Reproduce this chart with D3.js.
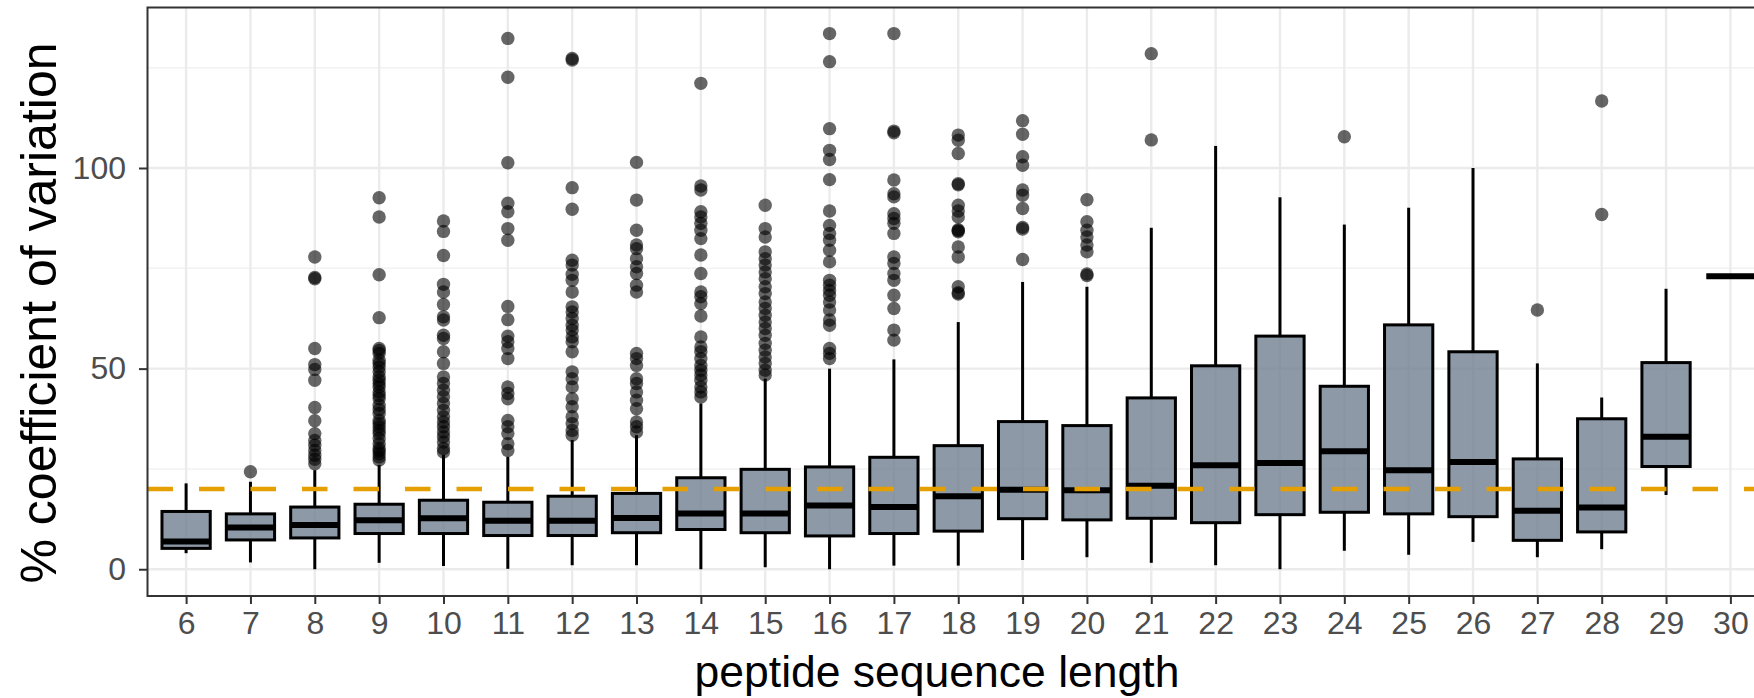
<!DOCTYPE html>
<html>
<head>
<meta charset="utf-8">
<script src="https://cdn.jsdelivr.net/npm/d3@7"></script>
<style>
  html, body { margin: 0; padding: 0; background: #ffffff; }
  svg { display: block; font-family: "Liberation Sans", Arial, sans-serif; }
</style>
</head>
<body>
<svg id="chart" width="1754" height="698"></svg>
<script>
// Peptide sequence length categories
const lengths = [6, 7, 8, 9, 10, 11, 12, 13, 14, 15, 16, 17, 18, 19, 20, 21, 22, 23, 24, 25, 26, 27, 28, 29, 30];

// Box statistics (% CV) per length
const q1       = [5.2, 7.3, 7.8, 8.9, 8.9, 8.4, 8.4, 9.1, 9.9, 9.1, 8.3, 8.9, 9.5, 12.6, 12.3, 12.7, 11.6, 13.6, 14.2, 13.8, 13.1, 7.2, 9.3, 25.6, 73.0];
const medians  = [6.9, 10.4, 11.0, 12.2, 12.7, 12.1, 12.1, 12.8, 13.9, 13.9, 15.9, 15.5, 18.2, 19.8, 19.7, 20.8, 25.9, 26.5, 29.4, 24.7, 26.7, 14.6, 15.4, 33.0, 73.0];
const q3       = [14.4, 13.8, 15.5, 16.2, 17.2, 16.7, 18.2, 18.9, 22.8, 24.9, 25.5, 27.9, 30.8, 36.8, 35.8, 42.7, 50.7, 58.1, 45.6, 60.9, 54.2, 27.5, 37.5, 51.5, 73.0];
const whiskerLo = [4.0, 1.7, 0.0, 1.6, 0.8, 0.1, 1.0, 1.0, 0.0, 0.5, 0.0, 0.9, 0.9, 2.3, 3.0, 1.6, 1.0, 0.0, 4.6, 3.6, 6.8, 3.0, 5.0, 18.5, 73.0];
const whiskerHi = [21.4, 21.8, 24.7, 26.0, 28.5, 28.0, 32.2, 33.4, 41.3, 47.5, 50.0, 52.3, 61.6, 71.6, 70.4, 85.1, 105.5, 92.7, 85.9, 90.1, 100.0, 51.3, 42.8, 69.9, 73.0];

// Outlying % CV values per length (same order as lengths)
const outliers = [
  [],
  [24.3],
  [77.8, 72.7, 72.4, 55.0, 51.0, 49.8, 47.1, 40.3, 37.0, 33.8, 32.1, 30.9, 29.6, 28.4, 27.4, 26.3],
  [92.6, 87.8, 73.4, 62.7, 55.0, 54.5, 53.8, 52.1, 51.3, 50.4, 49.2, 48.0, 47.1, 46.2, 45.4, 44.2, 43.3, 42.5, 40.9, 39.8, 38.8, 37.1, 36.3, 35.5, 34.6, 33.8, 32.6, 31.3, 30.1, 29.5, 28.8, 28.0, 27.2],
  [86.8, 84.2, 78.2, 71.0, 69.1, 66.0, 62.9, 62.1, 58.3, 57.5, 54.2, 51.3, 47.9, 46.3, 44.6, 43.0, 41.3, 39.6, 38.0, 36.7, 35.5, 34.2, 33.0, 31.7, 30.1, 29.2],
  [132.3, 122.6, 101.3, 91.2, 89.1, 84.9, 82.0, 65.5, 62.2, 58.1, 56.7, 55.0, 52.5, 45.4, 43.8, 42.5, 37.1, 35.5, 33.8, 31.3, 29.6],
  [127.3, 126.9, 95.1, 89.7, 77.0, 75.8, 73.5, 72.0, 69.1, 65.4, 64.1, 62.5, 60.8, 59.6, 57.9, 56.7, 54.2, 49.2, 47.5, 45.4, 42.5, 40.5, 38.0, 36.3, 34.6, 33.4],
  [101.4, 92.0, 84.5, 80.8, 79.9, 77.4, 75.4, 73.7, 70.8, 69.1, 53.8, 52.5, 50.8, 47.5, 46.3, 44.2, 42.1, 40.0, 36.7, 35.5, 34.2],
  [121.1, 95.5, 94.5, 89.1, 87.8, 86.2, 84.5, 82.4, 78.3, 73.7, 69.1, 67.9, 66.2, 63.1, 57.9, 55.4, 54.2, 52.5, 50.8, 49.6, 48.4, 47.1, 45.4, 44.2, 42.9],
  [90.7, 84.9, 82.8, 79.1, 77.4, 75.8, 74.1, 72.4, 70.4, 68.7, 66.6, 65.0, 63.3, 61.6, 60.0, 58.3, 56.3, 54.6, 52.9, 51.3, 49.6, 48.4],
  [133.5, 126.5, 109.8, 104.4, 102.1, 97.1, 89.3, 85.7, 83.7, 82.0, 79.5, 76.6, 72.0, 70.8, 69.5, 68.3, 66.6, 64.6, 62.1, 60.8, 55.0, 53.8, 52.5],
  [133.5, 109.2, 108.8, 97.0, 93.6, 92.8, 88.6, 87.4, 86.2, 83.7, 77.8, 76.2, 73.7, 72.0, 68.3, 65.0, 59.6, 57.1],
  [108.2, 106.9, 103.6, 96.1, 95.8, 90.7, 89.3, 87.8, 84.6, 84.4, 84.1, 80.3, 77.8, 70.4, 68.9, 68.6],
  [111.8, 108.4, 102.8, 100.7, 94.5, 93.2, 89.9, 85.2, 84.8, 77.2],
  [92.1, 86.6, 84.5, 82.8, 80.8, 79.1, 73.6, 73.2],
  [128.5, 107.0],
  [],
  [],
  [107.8],
  [],
  [],
  [64.6],
  [116.7, 88.4],
  [],
  []
];

// Y axis ticks and the 20% reference line
const yMajorTicks = [0, 50, 100];
const yMinorTicks = [25, 75, 125];
const cvThreshold = 20;

const svg = d3.select("#chart");
const panel = { left: 147.5, right: 1769, top: 7.5, bottom: 596 };

const x = d3.scalePoint()
  .domain(lengths)
  .range([panel.left, panel.right])
  .padding(0.6);

const y = d3.scaleLinear()
  .domain([-6.67, 140])
  .range([panel.bottom, panel.top]);

const boxW = x.step() * 0.75;

svg.append("rect").attr("width", 1754).attr("height", 698).attr("fill", "#ffffff");

// grid
const grid = svg.append("g");
grid.selectAll("line.minor").data(yMinorTicks).join("line")
  .attr("x1", panel.left).attr("x2", panel.right)
  .attr("y1", d => y(d)).attr("y2", d => y(d))
  .attr("stroke", "#F2F2F2").attr("stroke-width", 1.6);
grid.selectAll("line.majorY").data(yMajorTicks).join("line")
  .attr("x1", panel.left).attr("x2", panel.right)
  .attr("y1", d => y(d)).attr("y2", d => y(d))
  .attr("stroke", "#EBEBEB").attr("stroke-width", 2.4);
grid.selectAll("line.majorX").data(lengths).join("line")
  .attr("x1", d => x(d)).attr("x2", d => x(d))
  .attr("y1", panel.top).attr("y2", panel.bottom)
  .attr("stroke", "#EBEBEB").attr("stroke-width", 2.4);

const stats = lengths.map((len, i) => ({
  len, q1: q1[i], med: medians[i], q3: q3[i],
  lo: whiskerLo[i], hi: whiskerHi[i], out: outliers[i]
}));

// outlying points
const pts = stats.flatMap(s => s.out.map(v => ({ len: s.len, v })));
svg.append("g").selectAll("circle").data(pts).join("circle")
  .attr("cx", d => x(d.len))
  .attr("cy", d => y(d.v))
  .attr("r", 6.7)
  .attr("fill", "#000000")
  .attr("fill-opacity", 0.6);

// whiskers
const wg = svg.append("g").attr("stroke", "#000").attr("stroke-width", 3);
wg.selectAll("line.up").data(stats).join("line")
  .attr("x1", d => x(d.len)).attr("x2", d => x(d.len))
  .attr("y1", d => y(d.q3)).attr("y2", d => y(d.hi));
wg.selectAll("line.down").data(stats).join("line")
  .attr("x1", d => x(d.len)).attr("x2", d => x(d.len))
  .attr("y1", d => y(d.q1)).attr("y2", d => y(d.lo));

// boxes
svg.append("g").selectAll("rect").data(stats).join("rect")
  .attr("x", d => x(d.len) - boxW / 2)
  .attr("y", d => y(d.q3))
  .attr("width", boxW)
  .attr("height", d => y(d.q1) - y(d.q3))
  .attr("fill", "rgba(112,128,144,0.8)")
  .attr("stroke", "#000")
  .attr("stroke-width", 3);

// medians
svg.append("g").selectAll("line").data(stats).join("line")
  .attr("x1", d => x(d.len) - boxW / 2)
  .attr("x2", d => x(d.len) + boxW / 2)
  .attr("y1", d => y(d.med)).attr("y2", d => y(d.med))
  .attr("stroke", "#000")
  .attr("stroke-width", 6);

// 20% reference line
svg.append("line")
  .attr("x1", panel.left).attr("x2", panel.right)
  .attr("y1", y(cvThreshold)).attr("y2", y(cvThreshold))
  .attr("stroke", "#E69F00")
  .attr("stroke-width", 4.5)
  .attr("stroke-dasharray", "25.5 26");

// panel border
svg.append("rect")
  .attr("x", panel.left).attr("y", panel.top)
  .attr("width", panel.right - panel.left)
  .attr("height", panel.bottom - panel.top)
  .attr("fill", "none")
  .attr("stroke", "#333333")
  .attr("stroke-width", 2);

// axes
const yAxis = svg.append("g")
  .attr("transform", `translate(${panel.left},0)`)
  .call(d3.axisLeft(y).tickValues(yMajorTicks).tickSize(8.5).tickPadding(13));
const xAxis = svg.append("g")
  .attr("transform", `translate(0,${panel.bottom})`)
  .call(d3.axisBottom(x).tickSize(8).tickPadding(7.5));

[yAxis, xAxis].forEach(g => {
  g.select(".domain").remove();
  g.selectAll(".tick line").attr("stroke", "#333333").attr("stroke-width", 2);
  g.selectAll(".tick text")
    .attr("fill", "#4D4D4D")
    .style("font-size", "32px")
    .style("font-family", "'Liberation Sans', Arial, sans-serif");
});

// axis titles
svg.append("text")
  .attr("x", 937)
  .attr("y", 687)
  .attr("text-anchor", "middle")
  .attr("fill", "#000")
  .style("font-size", "44.5px")
  .text("peptide sequence length");

svg.append("text")
  .attr("transform", "translate(55.5,313) rotate(-90)")
  .attr("text-anchor", "middle")
  .attr("fill", "#000")
  .style("font-size", "50px")
  .text("% coefficient of variation");
</script>
</body>
</html>
